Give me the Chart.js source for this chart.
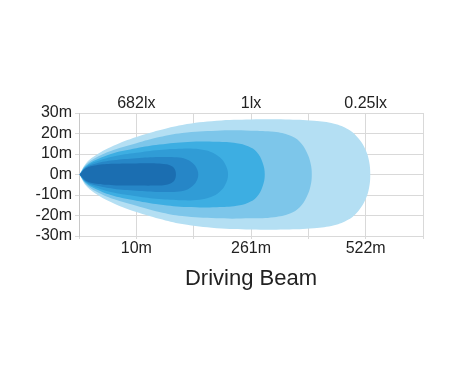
<!DOCTYPE html>
<html>
<head>
<meta charset="utf-8">
<script src="https://cdn.jsdelivr.net/npm/chart.js@4.4.0/dist/chart.umd.min.js"></script>
<style>
  html, body { margin: 0; padding: 0; background: #fff; }
</style>
</head>
<body>
<canvas id="beamChart" width="460" height="387"></canvas>
<script>
// tick positions along the beam and their labels
var tickPos = [1, 3, 5];
var distLabels = ['10m', '261m', '522m'];
var luxLabels = ['682lx', '1lx', '0.25lx'];

// isolux zones, inner to outer: position along the beam / half width (m)
var zone1X = [0.01, 0.12, 0.3, 0.6, 1.0, 1.35, 1.52, 1.62, 1.67, 1.69];
var zone1W = [0, 3.0, 4.5, 5.2, 5.4, 5.4, 5.0, 4.0, 2.6, 0];
var zone2X = [0.01, 0.12, 0.3, 0.6, 1.0, 1.4, 1.7, 1.87, 1.98, 2.05, 2.08];
var zone2W = [0, 3.4, 5.4, 6.9, 7.9, 8.5, 8.4, 7.5, 5.6, 3.2, 0];
var zone3X = [0.01, 0.12, 0.3, 0.6, 1.0, 1.4, 1.8, 2.1, 2.3, 2.45, 2.55, 2.6];
var zone3W = [0, 3.8, 6.3, 8.8, 10.6, 12.0, 12.6, 12.3, 11.0, 8.5, 5.0, 0];
var zone4X = [0.01, 0.12, 0.3, 0.6, 1.0, 1.4, 1.9, 2.4, 2.75, 2.95, 3.1, 3.2, 3.24];
var zone4W = [0, 4.2, 7.2, 10.4, 12.8, 14.6, 15.9, 16.0, 15.3, 13.8, 11.0, 6.0, 0];
var zone5X = [0.01, 0.12, 0.3, 0.6, 1.0, 1.4, 1.8, 2.4, 3.0, 3.4, 3.68, 3.85, 3.97, 4.04, 4.06];
var zone5W = [0, 4.7, 8.3, 12.0, 15.3, 18.3, 20.3, 21.4, 21.4, 20.8, 19.0, 16.0, 11.0, 5.4, 0];
var zone6X = [0.01, 0.12, 0.3, 0.6, 1.0, 1.4, 1.8, 2.4, 3.0, 3.6, 4.1, 4.45, 4.7, 4.88, 5.0, 5.06, 5.08];
var zone6W = [0, 5.4, 9.5, 14.0, 18.3, 21.6, 24.2, 26.2, 26.8, 26.8, 26.2, 24.8, 22.0, 17.5, 12.0, 6.5, 0];

var zoneColors = ['#1b6eb1', '#2686c7', '#309cd6', '#3daee2', '#7dc6ea', '#b4dff3'];

function outline(xs, ws) {
    var pts = [];
    for (var i = 0; i < xs.length; i++) pts.push({x: xs[i], y: ws[i]});
    for (var j = xs.length - 2; j >= 0; j--) pts.push({x: xs[j], y: -ws[j]});
    return pts;
}

var zones = [
    outline(zone1X, zone1W), outline(zone2X, zone2W), outline(zone3X, zone3W),
    outline(zone4X, zone4W), outline(zone5X, zone5W), outline(zone6X, zone6W)
];

var datasets = zones.map(function (pts, i) {
    return {
        data: pts,
        fill: 'shape',
        backgroundColor: zoneColors[i],
        borderColor: 'rgba(0,0,0,0)',
        borderWidth: 0,
        pointRadius: 0,
        pointHoverRadius: 0,
        tension: 0.4
    };
});

var fontFamily = '"Liberation Sans", Arial, sans-serif';
var tickFont = {family: fontFamily, size: 16};
var gridColor = '#d9d9d9';

function pickLabel(list) {
    return function (value) {
        var i = tickPos.indexOf(value);
        return i >= 0 ? list[i] : '';
    };
}

new Chart(document.getElementById('beamChart').getContext('2d'), {
    type: 'line',
    data: {datasets: datasets},
    options: {
        responsive: false,
        animation: false,
        events: [],
        layout: {padding: {left: 0, right: 37, top: 0, bottom: 94.8}},
        plugins: {
            legend: {display: false},
            tooltip: {enabled: false}
        },
        scales: {
            x: {
                type: 'linear',
                position: 'bottom',
                min: 0,
                max: 6,
                afterFit: function (axis) { axis.height = 56.2; },
                grid: {color: gridColor, tickLength: 3},
                border: {color: gridColor},
                title: {
                    display: true,
                    text: 'Driving Beam',
                    color: '#222',
                    font: {family: fontFamily, size: 22},
                    padding: 0
                },
                ticks: {stepSize: 1, padding: 0, color: '#222', font: tickFont, maxRotation: 0, autoSkip: false,
                    callback: pickLabel(distLabels)}
            },
            x2: {
                type: 'linear',
                position: 'top',
                min: 0,
                max: 6,
                afterFit: function (axis) { axis.height = 113; },
                grid: {display: false, drawTicks: false},
                border: {display: false},
                ticks: {stepSize: 1, padding: 0, color: '#222', font: tickFont, maxRotation: 0, autoSkip: false,
                    callback: pickLabel(luxLabels)}
            },
            y: {
                type: 'linear',
                min: -30,
                max: 30,
                afterFit: function (axis) { axis.width = 79; },
                grid: {color: gridColor, tickLength: 4},
                border: {color: '#c8c8c8'},
                ticks: {stepSize: 10, padding: 3, color: '#222', font: tickFont, autoSkip: false,
                    callback: function (v) { return v + 'm'; }}
            }
        }
    }
});
</script>
</body>
</html>
